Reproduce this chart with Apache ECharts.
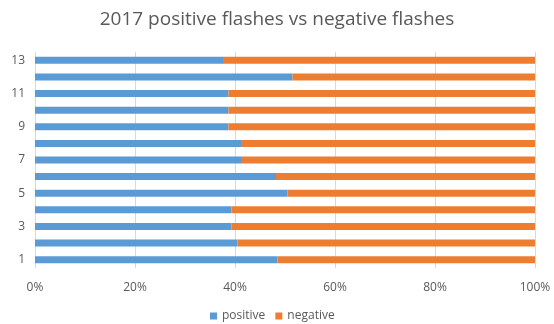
<!DOCTYPE html>
<html>
<head>
<meta charset="utf-8">
<script src="https://cdn.jsdelivr.net/npm/echarts@6/dist/echarts.min.js"></script>
<style>html,body{margin:0;padding:0;background:#fff}#c{width:554px;height:324px}</style>
</head>
<body>
<div id="c"></div>
<script>
var categories = ['1','2','3','4','5','6','7','8','9','10','11','12','13'];
var positive = [48.5, 40.5, 39.3, 39.3, 50.5, 48.2, 41.2, 41.2, 38.7, 38.7, 38.7, 51.5, 37.6];
var negative = [51.5, 59.5, 60.7, 60.7, 49.5, 51.8, 58.8, 58.8, 61.3, 61.3, 61.3, 48.5, 62.4];
var xTicks = [0, 20, 40, 60, 80, 100];

var font = 'Open Sans, Noto Sans, sans-serif';
var chart = echarts.init(document.getElementById('c'));
chart.setOption({
  animation: false,
  title: {
    text: '2017 positive flashes vs negative flashes',
    left: 'center', top: 5,
    textStyle: { fontFamily: font, fontSize: 19, fontWeight: 'normal', color: '#595959' }
  },
  legend: {
    left: 205, top: 305, itemWidth: 7, itemHeight: 7, itemGap: 10,
    icon: 'rect',
    textStyle: { fontFamily: font, fontSize: 12, color: '#595959' },
    data: ['positive', 'negative']
  },
  grid: { left: 35, right: 19, top: 52, bottom: 56 },
  xAxis: {
    type: 'value', min: xTicks[0], max: xTicks[xTicks.length - 1], interval: 20,
    axisLabel: { formatter: '{value}%', fontFamily: font, fontSize: 12, color: '#595959', margin: 14 },
    axisLine: { show: false }, axisTick: { show: false },
    splitLine: { lineStyle: { color: '#d9d9d9', width: 1 } }
  },
  yAxis: {
    type: 'category', data: categories,
    axisLabel: { interval: 1, fontFamily: font, fontSize: 12, color: '#595959', margin: 10 },
    axisLine: { show: false }, axisTick: { show: false }
  },
  series: [
    { name: 'positive', type: 'bar', stack: 't', data: positive, barWidth: 7, itemStyle: { color: '#5B9BD5' } },
    { name: 'negative', type: 'bar', stack: 't', data: negative, barWidth: 7, itemStyle: { color: '#ED7D31' } }
  ]
});
</script>
</body>
</html>
